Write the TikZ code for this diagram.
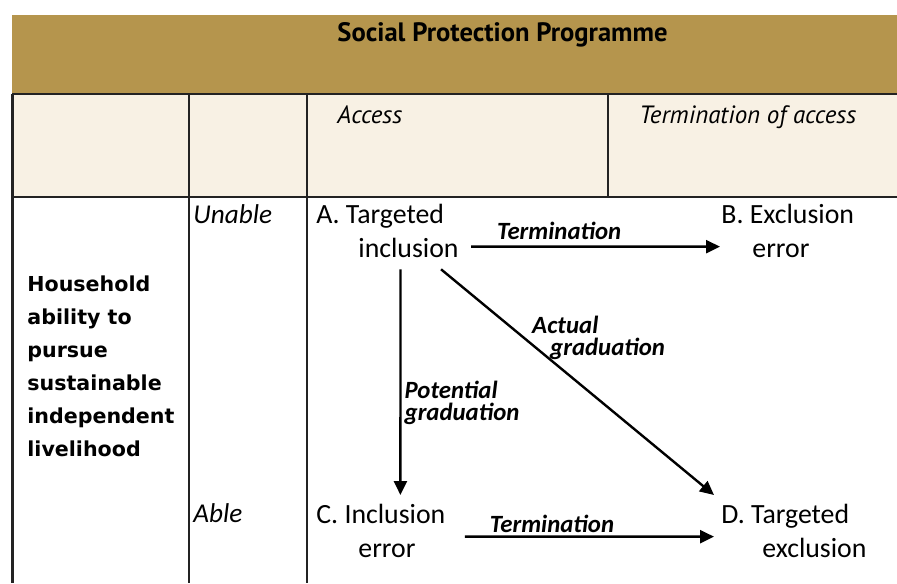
\documentclass[tikz,border=0pt]{standalone}
\usepackage{fontspec}
\setmainfont{Carlito}
\newfontfamily\headfont{PT Sans}
\newfontfamily\sidefont{DejaVu Sans}
\usetikzlibrary{arrows.meta}
\usetikzlibrary{positioning}
\definecolor{band}{RGB}{181,149,77}
\definecolor{cream}{RGB}{248,241,228}
\definecolor{rule}{RGB}{35,35,35}

\begin{document}
\begin{tikzpicture}
    [x=0.5pt, y=-0.5pt,
     st/.style={inner sep=0, anchor=north west, align=left, font=\fontsize{13.9}{17}\selectfont},
     hd/.style={inner sep=0, anchor=base west, font=\headfont\itshape\fontsize{12.5}{14}\selectfont},
     rw/.style={inner sep=0, anchor=base west, font=\itshape\fontsize{13.6}{15}\selectfont},
     tr/.style={-{Triangle[length=7pt, width=6.5pt]}, line width=1.2pt},
     tl/.style={inner sep=0, align=left, font=\bfseries\itshape\fontsize{12.4}{11}\selectfont},
     ln/.style={draw=rule, line width=1pt}]

    \useasboundingbox (0,0) rectangle (897,583);
    \fill [band] (12,15) rectangle (897,94);
    \fill [cream] (12,94) rectangle (897,197);
    \draw [ln, line width=0.7pt] (12,94) -- (897,94);
    \draw [ln, line width=1.4pt] (12,197) -- (897,197);
    \draw [ln, line width=1.5pt] (12,94) -- (12,583);
    \draw [ln] (189,94) -- (189,583);
    \draw [ln] (307,94) -- (307,583);
    \draw [ln, line width=0.7pt] (608,94) -- (608,197);

    \node [anchor=base, inner sep=0, font=\headfont\bfseries\fontsize{13.3}{15}\selectfont] (title) at (502.5,42) {Social Protection Programme};
    \node [hd] (access) at (337,123) {Access};
    \node [hd] (endaccess) at (639,123) {Termination of access};
    \node [rw] (unable) at (193,223) {Unable};
    \node [rw] (able) at (193,522) {Able};
    \node [inner sep=0, anchor=north west, align=left, font=\sidefont\bfseries\fontsize{10.3}{16.5}\selectfont] (ability) at (27,275) {
	Household\\ability to\\pursue\\sustainable\\independent\\livelihood
    };

    \node [st] (A) at (316,204) {A. Targeted\\\hspace*{21pt}inclusion};
    \node [st, right=202.5pt of A.north west, anchor=north west] (B) {B. Exclusion\\\hspace*{15.5pt}error};
    \node [st, below=150pt of A.north west, anchor=north west] (C) {C. Inclusion\\\hspace*{21pt}error};
    \node [st, right=202.5pt of C.north west, anchor=north west] (D) {D. Targeted\\\hspace*{20.5pt}exclusion};

    \draw [tr] ([xshift=6pt, yshift=-7.75pt] A.east) -- node [tl, above=3pt, pos=0.354] {Termination} ([xshift=-0.5pt, yshift=-7.75pt] B.west);
    \draw [tr] ([xshift=9.5pt, yshift=-2.75pt] C.east) -- node [tl, above=1.5pt, pos=0.35] {Termination} ([xshift=-3.5pt, yshift=-2.75pt] D.west);
    \draw [tr] ([xshift=6.5pt, yshift=-5.5pt] A.south) -- node [tl, right=1.5pt, pos=0.59] {Potential\\graduation} ([xshift=9.75pt, yshift=4.5pt] C.north);
    \draw [tr] ([xshift=-9pt, yshift=-5.5pt] A.south east) -- node [tl, anchor=west, xshift=3.5pt, pos=0.304] {Actual\\\hspace*{9pt}graduation} ([xshift=-3.5pt, yshift=4.5pt] D.north west);
\end{tikzpicture}
\end{document}
